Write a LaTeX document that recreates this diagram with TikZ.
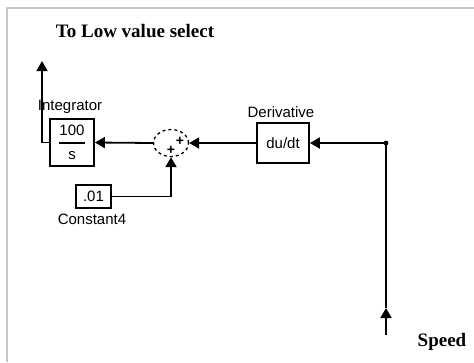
\documentclass[tikz,border=0pt]{standalone}
\usepackage{fontspec}
\setmainfont{Liberation Serif}
\newfontfamily\arialf{Liberation Sans}
\usetikzlibrary{arrows.meta,shapes.geometric}
\begin{document}
\begin{tikzpicture}[x=1pt,y=-1pt,
  blk/.style={draw, line width=1.8pt, inner sep=0pt, font=\arialf\fontsize{15}{15}\selectfont},
  lbl/.style={inner sep=0pt, font=\arialf\fontsize{15}{15}\selectfont},
  ttl/.style={inner sep=0pt, font=\bfseries\fontsize{19}{19}\selectfont},
  wire/.style={line width=1.8pt},
  sig/.style={line width=1.8pt, -{Triangle[length=10pt,width=11pt]}}]
\useasboundingbox (0,0) rectangle (474,362);
\draw[line width=2pt, color=black!22] (7,362) -- (7,8) -- (474,8);
% blocks
\node[blk, minimum width=44pt, minimum height=47pt] (int) at (72,142.5) {};
\node[lbl] (num) at (72,130) {100};
\node[lbl] (den) at (72,156) {s};
\draw[line width=1.4pt] (59,143) -- (85,143);
\node[lbl] (intlbl) at (70,107) {Integrator};
\node[draw, dashed, ellipse, line width=1.3pt, minimum width=35pt, minimum height=27pt, inner sep=0pt] (sum) at (171,143) {};
\node[lbl, font=\arialf\bfseries\fontsize{14}{14}\selectfont] (p1) at (180,141) {+};
\node[lbl, font=\arialf\bfseries\fontsize{14}{14}\selectfont] (p2) at (171,150) {+};
\node[blk, minimum width=52pt, minimum height=40pt] (der) at (283,143) {du/dt};
\node[lbl] (derlbl) at (281,112) {Derivative};
\node[blk, minimum width=35pt, minimum height=23pt] (const) at (93.5,196.5) {.01};
\node[lbl] (constlbl) at (92,219) {Constant4};
\node[ttl] (title) at (135,31) {To Low value select};
\node[ttl] (speed) at (442,342) {Speed};
\coordinate (j) at (386,143);
\coordinate (sp) at (386,335);
\coordinate (spm) at (386,308);
\coordinate (out) at (42,61);
\fill (j) circle (2.4pt);
% connectors
\draw[sig] (sum.west) -- (int.east);
\draw[sig] (der.west) -- (sum.east);
\draw[sig] (j) -- (der.east);
\draw[sig] (const.east) -| (sum.south);
\draw[sig] (int.west) -| (out);
\draw[sig] (sp) -- (spm);
\draw[wire] (spm) -- (j);
\end{tikzpicture}
\end{document}
